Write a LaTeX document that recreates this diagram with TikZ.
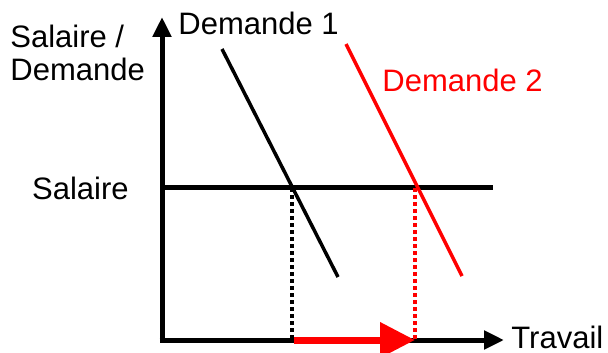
\documentclass[tikz,border=0pt]{standalone}
\usepackage{fontspec}
\setmainfont{Liberation Sans}
\usepackage{xcolor}
\usetikzlibrary{arrows.meta}
\definecolor{shiftRed}{RGB}{255,0,0}

\begin{document}
\begin{tikzpicture}[x=0.5pt,y=-0.5pt,
  every node/.style={font=\fontsize{15.5}{16.5}\selectfont,inner sep=0pt},
  axis/.style={line width=2.5pt,-{Triangle[length=10pt,width=9pt]}},
  curve/.style={line width=1.75pt},
  guide/.style={line width=2pt,dash pattern=on 2pt off 1.5pt}]
  \useasboundingbox (0,0) rectangle (608,352);
  % axes
  \coordinate (orig) at (162,340);
  \coordinate (ytop) at (162,17);
  \coordinate (xend) at (504,340);
  \draw[axis] ([yshift=-1.25pt]orig) -- (ytop);
  \draw[axis] ([xshift=-1.25pt]orig) -- (xend);
  \node[anchor=base west] (xlab) at (511,348) {Travail};
  \node[anchor=north west,align=left] (ylab) at (10,25) {Salaire /\\Demande};
  % wage level
  \coordinate (wleft) at (162,187);
  \coordinate (wright) at (493,187);
  \draw[line width=2.5pt] (wleft) -- (wright);
  \node[anchor=base east] (wlab) at (129,199) {Salaire};
  % demand curves
  \coordinate (d1top) at (222,49);
  \coordinate (d1bot) at (338,277);
  \draw[curve] (d1top) -- (d1bot);
  \node[anchor=base west] (d1lab) at (178,35) {Demande 1};
  \coordinate (d2top) at (346,44);
  \coordinate (d2bot) at (462,276);
  \draw[curve,shiftRed] (d2top) -- (d2bot);
  \node[anchor=base west,text=shiftRed] (d2lab) at (382,92) {Demande 2};
  % employment
  \coordinate (e1) at (292,188);
  \coordinate (e1b) at (292,340);
  \coordinate (e2) at (415,188);
  \coordinate (e2b) at (415,340);
  \draw[guide] (e1) -- (e1b);
  \draw[guide,shiftRed] (e2) -- (e2b);
  \draw[shiftRed,line width=3.5pt,-{Triangle[length=17.5pt,width=17pt]}] ([xshift=1pt]e1b) -- (e2b);
\end{tikzpicture}
\end{document}
